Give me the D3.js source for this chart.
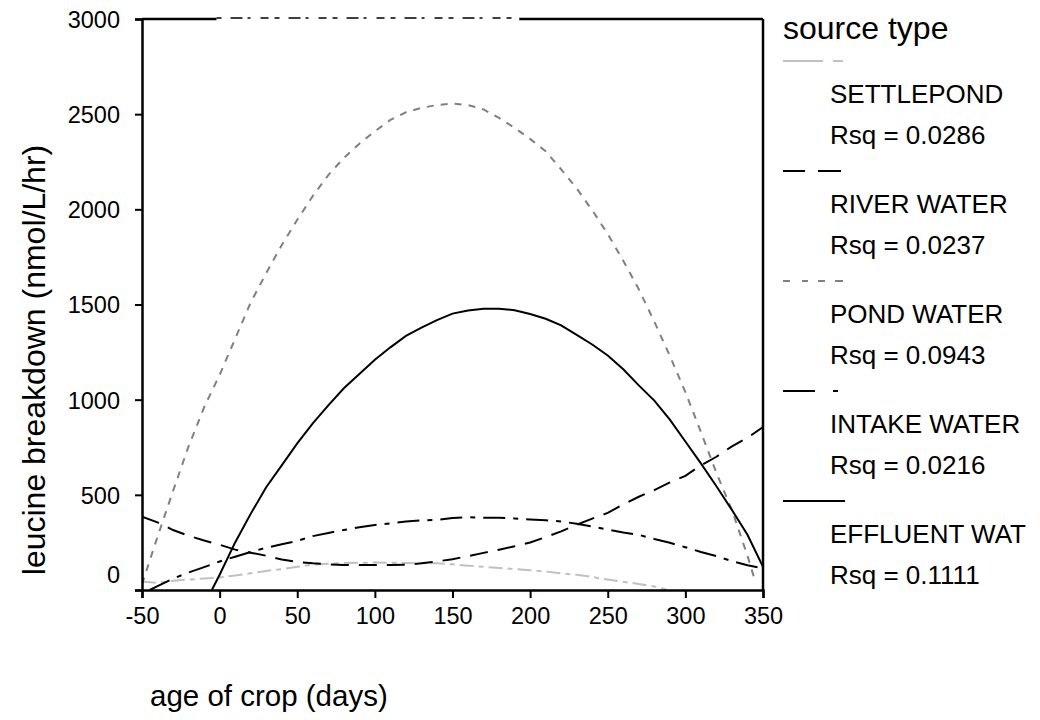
<!DOCTYPE html>
<html><head><meta charset="utf-8">
<script src="https://cdn.jsdelivr.net/npm/d3@7"></script>
<style>html,body{margin:0;padding:0;background:#fff;}svg{display:block;font-family:"Liberation Sans",Arial,sans-serif;}</style>
</head><body><svg id="c" width="1040" height="720"></svg>
<script>
// ---- data ----
const xTicks = [-50, 0, 50, 100, 150, 200, 250, 300, 350];
const yTicks = [0, 500, 1000, 1500, 2000, 2500, 3000];
const seriesNames = ["SETTLEPOND", "RIVER WATER", "POND WATER", "INTAKE WATER", "EFFLUENT WAT"];
const rsqLabels = ["Rsq = 0.0286", "Rsq = 0.0237", "Rsq = 0.0943", "Rsq = 0.0216", "Rsq = 0.1111"];

const settleDays = [-50,-40,-30,-20,-10,0,10,20,30,40,50,60,70,80,90,100,110,120,130,140,150,160,170,180,190,200,210,220,230,240,250,260,270,280,288];
const settleVals = [45,38,48,55,60,66,76,88,100,110,122,133,138,142,143,144,143,142,140,140,135,128,122,116,110,104,97,88,80,68,55,43,32,18,2];

const riverDays = [-50,-40,-30,-20,-10,0,10,20,30,40,50,60,70,80,90,100,110,120,130,140,150,160,170,180,190,200,210,220,230,240,250,260,270,280,290,300,310,320,330,340,350];
const riverVals = [385,355,315,285,260,238,212,196,180,160,148,140,135,131,131,131,131,133,140,150,162,178,195,212,230,250,278,308,343,375,405,450,490,525,565,600,655,700,755,800,856];

const pondDays = [-50,-40,-30,-20,-10,0,10,20,30,40,50,60,70,80,90,100,110,120,130,140,150,160,170,180,190,200,210,220,230,240,250,260,270,280,290,300,310,320,330,340,345];
const pondVals = [30,280,520,755,960,1130,1320,1510,1665,1812,1945,2070,2180,2270,2345,2410,2470,2510,2533,2548,2556,2548,2525,2480,2428,2370,2305,2210,2110,1995,1870,1730,1580,1410,1230,1040,830,615,420,180,45];

const intakeDays = [-45,-40,-30,-20,-10,0,10,20,30,40,50,60,70,80,90,100,110,120,130,140,150,160,170,180,190,200,210,220,230,240,250,260,270,280,290,300,310,320,330,340,350];
const intakeVals = [0,20,60,92,120,150,175,200,222,240,258,283,300,315,330,342,350,360,366,368,378,382,380,380,376,371,366,360,348,333,318,302,290,268,248,225,200,178,152,130,114];

const effluentDays = [-5,0,10,20,30,40,50,60,70,80,90,100,110,120,130,140,150,160,170,180,190,200,210,220,230,240,250,260,270,280,290,300,310,320,330,340,350];
const effluentVals = [0,80,250,400,540,655,770,875,970,1060,1135,1210,1275,1335,1378,1418,1452,1468,1478,1478,1470,1450,1425,1390,1340,1290,1232,1160,1075,995,895,780,665,545,420,290,122];

// ---- styles ----
const styles = [
  {color:"#c0c0c0", dash:"14,5,5,5", legend:[[0,40],[50,60]]},
  {color:"#000000", dash:"18,10", legend:[[0,22],[35,58]]},
  {color:"#808080", dash:"7,7", legend:[[0,7],[19,25],[35,42],[52,60]]},
  {color:"#000000", dash:"22,8,5,8", legend:[[0,32],[50,55]]},
  {color:"#000000", dash:null, legend:[[0,62]]}
];
const series = [
  {days:settleDays, vals:settleVals},
  {days:riverDays, vals:riverVals},
  {days:pondDays, vals:pondVals},
  {days:intakeDays, vals:intakeVals},
  {days:effluentDays, vals:effluentVals}
];

const FONT = "Liberation Sans, Arial, sans-serif";
const svg = d3.select("#c");
const L = 142, R = 763, T = 19, B = 590;
const x = d3.scaleLinear().domain([-50, 350]).range([L, R]);
const y = d3.scaleLinear().domain([0, 3000]).range([B, T]);

svg.append("clipPath").attr("id","pc").append("rect")
  .attr("x", L).attr("y", T).attr("width", R-L).attr("height", B-T);

// curves
const line = d3.line().x(d => x(d[0])).y(d => y(d[1]));
const gCurves = svg.append("g").attr("clip-path","url(#pc)");
series.forEach((s, i) => {
  const pts = s.days.map((d, j) => [d, s.vals[j]]);
  gCurves.append("path").attr("d", line(pts)).attr("fill","none")
    .attr("stroke", styles[i].color).attr("stroke-width", 2)
    .attr("stroke-dasharray", styles[i].dash);
});

const fmt = d => String(d); // hyphen-minus as in the reference

// axes
const xAxis = d3.axisBottom(x).tickValues(xTicks).tickSize(8).tickFormat(fmt);
const gx = svg.append("g").attr("transform", `translate(0,${B})`).call(xAxis);
gx.select(".domain").attr("stroke-width", 2.5);
gx.selectAll(".tick line").attr("stroke-width", 2);
gx.selectAll("text").attr("font-size", 23.5).attr("font-family", FONT).attr("fill","#000")
  .attr("y", 17).attr("dy","0.71em");

const yAxis = d3.axisLeft(y).tickValues(yTicks).tickSize(7).tickFormat(fmt);
const gy = svg.append("g").attr("transform", `translate(${L},0)`).call(yAxis);
gy.select(".domain").attr("stroke-width", 2.5);
gy.selectAll(".tick line").attr("stroke-width", 2);
gy.selectAll("text").attr("font-size", 23.5).attr("font-family", FONT).attr("fill","#000").attr("x", -22)
  .attr("dy", d => d === 0 ? "-0.3em" : "0.36em");

// right and top frame
svg.append("line").attr("x1", R).attr("x2", R).attr("y1", T).attr("y2", B).attr("stroke","#000").attr("stroke-width",2.5);
svg.append("line").attr("x1", L).attr("x2", R).attr("y1", T).attr("y2", T).attr("stroke","#000").attr("stroke-width",2.5);
// partially erased section of the top border
svg.append("line").attr("x1", x(-2)).attr("x2", x(193)).attr("y1", T).attr("y2", T).attr("stroke","#fff").attr("stroke-width",4);
svg.append("line").attr("x1", x(-2)).attr("x2", x(193)).attr("y1", T-1).attr("y2", T-1).attr("stroke","#000").attr("stroke-width",1.5)
  .attr("stroke-dasharray","5,9,12,5,3,10,8,6");

// axis titles
svg.append("text").attr("x", 150).attr("y", 706).attr("font-size", 29.5).text("age of crop (days)");
svg.append("text").attr("transform", "translate(45,360) rotate(-90)").attr("text-anchor","middle")
  .attr("font-size", 32).text("leucine breakdown (nmol/L/hr)");

// legend
svg.append("text").attr("x", 783).attr("y", 39).attr("font-size", 32).text("source type");
seriesNames.forEach((name, i) => {
  const ly = 61 + 110 * i;
  styles[i].legend.forEach(seg => {
    svg.append("line").attr("x1", 783 + seg[0]).attr("x2", 783 + seg[1]).attr("y1", ly).attr("y2", ly)
      .attr("stroke", styles[i].color).attr("stroke-width", 2);
  });
  svg.append("text").attr("x", 830).attr("y", ly + 42).attr("font-size", 26).text(name);
  svg.append("text").attr("x", 830).attr("y", ly + 83).attr("font-size", 26).text(rsqLabels[i]);
});
</script></body></html>
